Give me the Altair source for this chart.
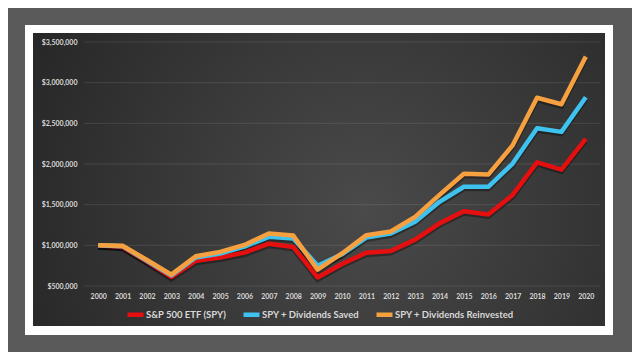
import altair as alt
import pandas as pd

years = list(range(2000, 2021))
series_names = ["S&P 500 ETF (SPY)", "SPY + Dividends Saved", "SPY + Dividends Reinvested"]
series_colors = ["#e60f0f", "#3ec3f0", "#f7a040"]

spy = [1000000, 980000, 800000, 610000, 810000, 850000, 910000, 1020000, 980000, 605000,
       770000, 910000, 930000, 1070000, 1270000, 1420000, 1380000, 1620000, 2020000, 1930000, 2310000]
saved = [1000000, 990000, 810000, 630000, 850000, 900000, 985000, 1105000, 1085000, 750000,
         890000, 1095000, 1145000, 1290000, 1535000, 1720000, 1720000, 2005000, 2440000, 2395000, 2820000]
reinvested = [1000000, 995000, 820000, 640000, 865000, 920000, 1005000, 1145000, 1120000, 700000,
              900000, 1125000, 1170000, 1350000, 1620000, 1880000, 1870000, 2230000, 2815000, 2735000, 3320000]

y_ticks = [500000, 1000000, 1500000, 2000000, 2500000, 3000000, 3500000]

rows = []
for name, vals in zip(series_names, [spy, saved, reinvested]):
    for yr, v in zip(years, vals):
        rows.append({"year": str(yr), "series": name, "value": v})
df = pd.DataFrame(rows)
grid_df = pd.DataFrame({"value": y_ticks})

one = pd.DataFrame({"a": [0]})

frame = alt.Chart(one).mark_rect(fill="#ffffff").encode(
    x=alt.value(-61), x2=alt.value(527), y=alt.value(-17), y2=alt.value(293)
)

grad = {
    "gradient": "radial",
    "x1": 0.58, "y1": 0.55, "r1": 0,
    "x2": 0.58, "y2": 0.55, "r2": 0.8,
    "stops": [
        {"offset": 0, "color": "#4a4a4a"},
        {"offset": 1, "color": "#1f1f1f"},
    ],
}
dark = alt.Chart(one).mark_rect(fill=grad).encode(
    x=alt.value(-53), x2=alt.value(519), y=alt.value(-9), y2=alt.value(284)
)

x_enc = alt.X(
    "year:O",
    title=None,
    axis=alt.Axis(
        labelAngle=0, labelFont="Lato", labelFontSize=7, labelFontWeight="bold",
        labelColor="#d9d9d9", ticks=False, domain=False, grid=False, labelPadding=6,
        zindex=1,
    ),
)
y_scale = alt.Scale(domain=[500000, 3500000], nice=False, zero=False)
y_enc = alt.Y(
    "value:Q",
    title=None,
    scale=y_scale,
    axis=alt.Axis(
        values=y_ticks, format="$,.0f", labelFont="Lato", labelFontSize=7,
        labelFontWeight="bold", labelColor="#d9d9d9", ticks=False, domain=False,
        grid=False, labelPadding=9, zindex=1,
    ),
)

gridlines = alt.Chart(grid_df).mark_rule(color="#ffffff", opacity=0.13, strokeWidth=0.8).encode(
    y=y_enc,
    x=alt.value(-2), x2=alt.value(514),
)

base = alt.Chart(df)

shadow = base.mark_line(color="#000000", opacity=0.35, strokeWidth=5, yOffset=2).encode(
    x=x_enc, y=y_enc, detail="series:N"
)

color_enc = alt.Color(
    "series:N",
    scale=alt.Scale(domain=series_names, range=series_colors),
    legend=alt.Legend(
        orient="none", legendX=39, legendY=262, direction="horizontal", title=None,
        symbolType="stroke", symbolStrokeWidth=4.5, symbolSize=256, labelOffset=0,
        columnPadding=7, labelFont="Lato", labelFontSize=9.5, labelFontWeight="bold",
        labelColor="#d9d9d9", padding=0, zindex=1,
    ),
)

line_layers = []
for name in series_names:
    line_layers.append(
        base.transform_filter(alt.datum.series == name)
        .mark_line(strokeWidth=4.5, strokeJoin="round")
        .encode(x=x_enc, y=y_enc, color=color_enc)
    )

chart = alt.layer(frame, dark, gridlines, shadow, *line_layers).properties(
    width=512, height=244,
    padding={"left": 78, "top": 34, "right": 34, "bottom": 66},
    autosize=alt.AutoSizeParams(type="none"),
    background="#5a5a5a",
).configure_view(strokeWidth=0)

chart.save("out.html", embed_options={"renderer": "svg", "actions": False})
